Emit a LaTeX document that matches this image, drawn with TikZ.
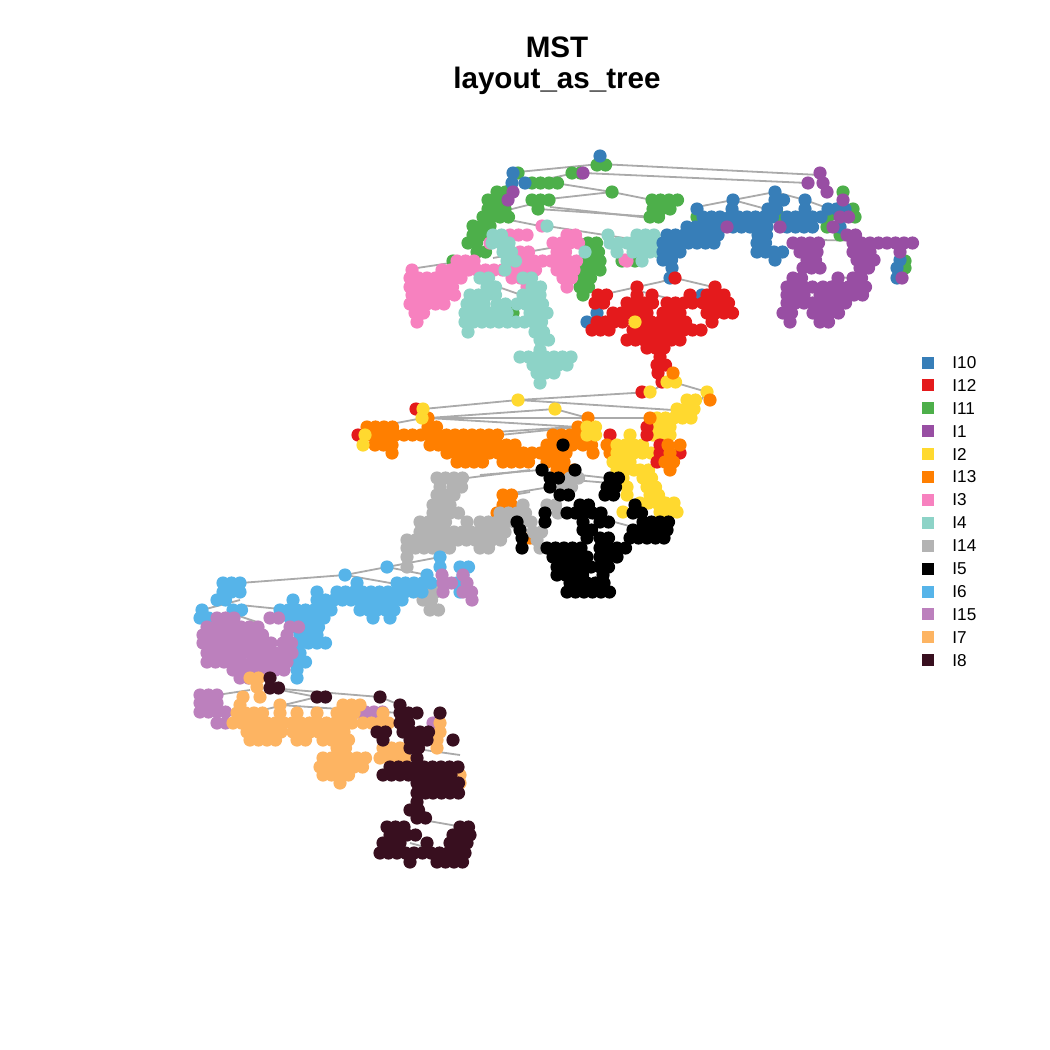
\documentclass[tikz,border=0pt]{standalone}
\usepackage{fontspec}
\setmainfont{Liberation Sans}
\definecolor{cA}{HTML}{377EB8}
\definecolor{cB}{HTML}{E41A1C}
\definecolor{cC}{HTML}{4DAF4A}
\definecolor{cD}{HTML}{984EA3}
\definecolor{cE}{HTML}{FFD92F}
\definecolor{cF}{HTML}{FF7F00}
\definecolor{cG}{HTML}{F781BF}
\definecolor{cH}{HTML}{8DD3C7}
\definecolor{cI}{HTML}{B3B3B3}
\definecolor{cJ}{HTML}{000000}
\definecolor{cK}{HTML}{56B4E9}
\definecolor{cL}{HTML}{BC80BD}
\definecolor{cM}{HTML}{FDB462}
\definecolor{cN}{HTML}{380F1F}
\definecolor{edgecol}{HTML}{AAAAAA}
\newcommand\pts[2]{\foreach \yy/\xx/\nn in {#2}{\foreach \ii in {1,...,\nn}{\fill[#1] ({\xx+8.5*(\ii-1)},\yy) circle[radius=3.3pt];}}}
\tikzset{edge/.style={draw=edgecol,line width=0.9pt},
  legsq/.style={minimum size=6pt,inner sep=0pt,draw=none},
  legtxt/.style={anchor=west,inner sep=0pt,font=\fontsize{8.6}{10}\selectfont},
  title/.style={anchor=base,inner sep=0pt,font=\fontsize{14.8}{17}\selectfont\bfseries}}
\begin{document}
\begin{tikzpicture}[x=0.5pt,y=-0.5pt]
\path[use as bounding box,fill=white] (0,0) rectangle (1050,1050);
\node[title] (t1) at (557,57) {MST};
\node[title] (t2) at (557,88) {layout\_as\_tree};
% edges
\foreach \a/\b/\c/\d in {518/172/600/164, 600/164/820/175, 583/173/808/183, 533/182/575/173, 555/183/612/192, 612/192/652/200, 540/200/612/192, 538/209/655/217, 508/210/540/202, 510/220/540/226, 547/226/650/242, 550/207/650/218, 697/207/733/200, 733/200/775/192, 775/192/805/200, 805/200/830/209, 733/200/770/210, 820/240/913/242, 833/277/853/278, 493/258/550/248, 417/268/457/262, 487/283/527/297, 610/293/637/287, 637/287/660/282, 660/282/675/278, 675/278/713/287, 643/292/667/298, 675/278/670/268,
650/392/518/400, 518/400/423/409, 518/400/673/410, 555/409/428/418, 555/409/588/418, 428/418/650/418, 428/418/578/427, 370/428/423/418, 707/392/673/382, 650/392/667/382, 707/392/697/405, 500/435/578/427, 457/445/497/437, 480/433/573/427, 480/475/540/470, 513/493/550/487, 580/475/607/478, 607/520/633/527, 467/478/530/470, 513/495/530/492, 573/480/610/483,
345/575/240/583, 345/575/387/567, 387/567/440/557, 387/567/427/575, 345/575/430/590, 202/610/240/600, 240/605/290/610, 243/633/290/660, 230/613/260/623, 270/688/380/697, 380/697/400/705, 270/688/317/697, 217/695/250/690, 263/710/317/697, 280/705/400/713, 410/748/460/755, 423/820/463/827, 410/843/447/853}
  {\draw[edge] (\a,\b) -- (\c,\d);}
% points
\pts{cC}{165/597/2, 173/518/1, 173/572/2, 183/532/4, 192/497/2, 192/612/1, 192/843/1, 200/488/3, 200/532/3, 200/652/4, 209/488/3, 209/538/1, 209/653/3, 209/853/1, 217/483/4, 217/650/2, 217/697/1, 217/780/1, 217/828/1, 217/855/1, 226/473/3, 227/827/1, 235/473/2, 235/840/1, 243/468/2, 243/588/2, 252/477/2, 252/590/2, 261/453/1, 261/583/3, 261/622/1, 261/635/1, 261/905/1, 268/905/1, 270/583/3, 278/582/2, 287/580/2, 295/583/1, 313/513/1}
\pts{cG}{226/542/1, 235/510/3, 235/567/2, 243/490/1, 243/553/4, 252/520/2, 252/557/2, 260/625/1, 261/457/3, 261/517/8, 261/627/1, 270/412/1, 270/442/2, 270/460/6, 270/510/4, 270/557/3, 278/410/7, 278/512/3, 278/563/2, 287/410/6, 287/527/1, 287/567/1, 295/412/6, 304/410/5, 313/415/2, 322/417/1}
\pts{cH}{226/547/1, 235/493/2, 235/608/1, 235/637/3, 243/492/3, 243/610/3, 243/632/4, 252/503/2, 252/585/1, 252/617/1, 252/633/4, 261/507/2, 261/642/1, 270/505/1, 278/480/2, 278/523/2, 287/487/2, 287/532/2, 295/470/4, 295/523/3, 304/467/3, 304/497/2, 304/517/4, 313/465/3, 313/490/3, 313/530/3, 322/465/10, 332/468/1, 332/535/2, 340/540/2, 350/540/1, 357/520/7, 365/533/5, 373/537/3, 383/540/1}
\pts{cA}{156/600/1, 173/513/1, 183/512/1, 183/525/1, 192/775/1, 200/733/1, 200/775/2, 200/805/1, 209/697/1, 209/732/1, 209/768/2, 209/805/1, 209/828/3, 217/703/3, 217/730/6, 217/787/5, 227/687/5, 227/733/5, 227/787/4, 227/840/1, 235/667/7, 235/758/2, 243/663/7, 243/757/2, 252/663/3, 252/757/4, 260/663/2, 260/775/1, 260/900/1, 268/672/1, 268/897/1, 278/670/1, 278/897/1, 295/702/1, 313/597/1, 322/587/1}
\pts{cD}{173/583/1, 173/820/1, 183/808/1, 183/823/1, 192/513/1, 192/827/1, 200/508/1, 200/843/1, 217/840/2, 227/727/1, 227/780/1, 227/833/1, 235/847/2, 243/793/4, 243/853/8, 252/800/3, 252/853/3, 252/900/1, 260/807/2, 260/857/3, 268/803/3, 268/860/2, 278/793/2, 278/838/1, 278/853/2, 278/902/1, 287/787/4, 287/823/6, 295/787/3, 295/820/6, 303/787/4, 303/820/4, 313/783/2, 313/813/4, 322/790/1, 322/820/2}
\pts{cB}{278/675/1, 287/637/1, 287/715/1, 295/598/2, 295/637/1, 295/652/1, 295/690/1, 295/707/3, 303/595/2, 303/627/4, 303/667/4, 303/703/4, 313/613/5, 313/663/3, 313/707/4, 322/597/4, 322/643/6, 322/712/1, 330/592/3, 330/633/9, 340/627/4, 340/663/3, 348/647/3, 357/660/1, 365/657/2, 373/658/1, 382/662/1, 392/642/1, 409/416/1, 435/358/1, 435/610/1}
\pts{cF}{418/428/1, 418/588/1, 427/367/4, 427/428/2, 427/578/1, 435/370/16, 435/553/4, 445/375/3, 445/430/11, 445/547/4, 445/583/2, 445/607/1, 453/392/1, 453/447/15, 453/593/1, 453/610/1, 462/457/4, 462/503/4, 462/547/3, 470/557/3, 495/503/2, 505/503/2, 513/497/1, 522/497/1, 538/530/1}
\pts{cE}{322/635/1, 382/667/2, 392/650/1, 392/707/1, 400/518/1, 400/687/2, 409/423/1, 409/555/1, 409/677/3, 418/422/1, 418/657/5, 427/587/2, 427/653/3, 435/365/1, 435/587/2, 435/630/1, 435/653/3, 445/363/1, 445/617/4, 453/617/5, 462/613/3, 470/617/3, 470/640/2, 478/623/1, 478/643/2, 487/627/1, 487/647/2, 495/627/1, 495/650/2, 503/640/5, 512/623/1, 512/660/3}
\pts{cB}{427/647/1, 435/647/1, 445/660/1, 453/660/1, 453/680/1, 462/657/1}
\pts{cF}{373/673/1, 400/710/1, 418/650/1, 445/668/1, 445/680/1, 453/670/1, 462/665/2, 470/670/1}
\pts{cI}{478/437/4, 478/570/2, 487/440/1, 487/453/2, 487/563/2, 495/437/3, 505/433/3, 505/523/1, 505/547/2, 513/433/4, 513/500/4, 513/558/1, 522/420/4, 522/467/1, 522/480/7, 532/420/11, 532/533/2, 540/407/12, 540/537/1, 548/407/6, 548/480/2, 548/540/1, 557/407/1, 567/407/1, 592/427/2, 600/423/2, 610/430/2}
\pts{cJ}{445/563/1, 470/542/1, 470/575/1, 478/550/2, 478/610/2, 487/550/1, 487/607/2, 495/560/2, 495/605/2, 505/580/2, 505/635/1, 513/545/1, 513/567/5, 513/633/2, 522/517/1, 522/545/1, 522/583/1, 522/600/2, 522/643/4, 530/520/1, 530/583/2, 530/633/5, 538/522/1, 538/587/1, 538/600/2, 538/630/5, 548/522/1, 548/547/5, 548/600/4, 557/553/5, 557/600/3, 567/557/5, 567/600/2, 575/557/4, 575/603/1, 583/570/5, 592/567/6}
\pts{cK}{557/440/1, 567/387/1, 567/440/1, 567/460/2, 575/345/1, 575/427/1, 575/463/1, 583/223/3, 583/357/1, 583/397/5, 583/457/1, 592/223/3, 592/317/1, 592/337/11, 592/460/1, 600/217/2, 600/293/1, 600/317/11, 610/202/1, 610/233/2, 610/280/7, 610/360/5, 618/200/2, 618/290/5, 618/373/1, 618/390/1, 627/293/4, 635/300/3, 643/300/4, 653/300/1, 662/297/2, 670/297/1, 678/297/1}
\pts{cL}{575/442/1, 575/463/1, 583/443/2, 583/467/1, 592/443/1, 592/463/2, 600/472/1, 618/217/3, 618/270/2, 627/207/7, 627/290/2, 635/203/8, 635/287/1, 643/203/9, 643/283/2, 653/207/11, 662/207/5, 662/253/5, 670/233/7, 678/240/3, 695/200/3, 703/200/3, 712/200/4, 712/357/4, 723/217/2, 723/433/1}
\pts{cM}{678/250/2, 687/257/1, 697/243/1, 697/260/1, 705/240/1, 705/280/1, 705/343/3, 713/237/4, 713/280/1, 713/297/1, 713/317/1, 713/337/3, 713/383/1, 723/233/15, 723/363/4, 723/440/1, 732/247/5, 732/293/7, 732/440/1, 740/250/4, 740/297/2, 740/323/4, 740/437/1, 748/337/2, 748/383/4, 748/437/1, 758/323/6, 758/380/4, 767/320/6, 775/323/4, 775/460/1, 783/340/1, 783/460/1}
\pts{cN}{678/270/1, 688/270/2, 697/317/2, 697/380/1, 705/400/1, 713/400/3, 713/440/1, 723/400/2, 732/377/2, 732/403/4, 740/383/1, 740/410/3, 740/453/1, 748/410/2, 758/417/1, 767/390/9, 775/383/9, 783/417/2, 783/433/4, 793/417/2, 793/433/4, 802/417/1, 810/410/2, 818/417/2, 827/387/3, 827/460/2, 835/390/4, 835/453/3, 843/383/3, 843/427/1, 843/450/3, 853/380/11, 862/410/1, 862/437/4}
% legend
\foreach \c/\t [count=\k from 0] in {cA/I10, cB/I12, cC/I11, cD/I1, cE/I2, cF/I13, cG/I3, cH/I4, cI/I14, cJ/I5, cK/I6, cL/I15, cM/I7, cN/I8}{
  \node[legsq,fill=\c] (sq\k) at (928,{362.5+22.9*\k}) {};
  \node[legtxt] (lab\k) at (952,{362.5+22.9*\k}) {\t};
}
\end{tikzpicture}
\end{document}
